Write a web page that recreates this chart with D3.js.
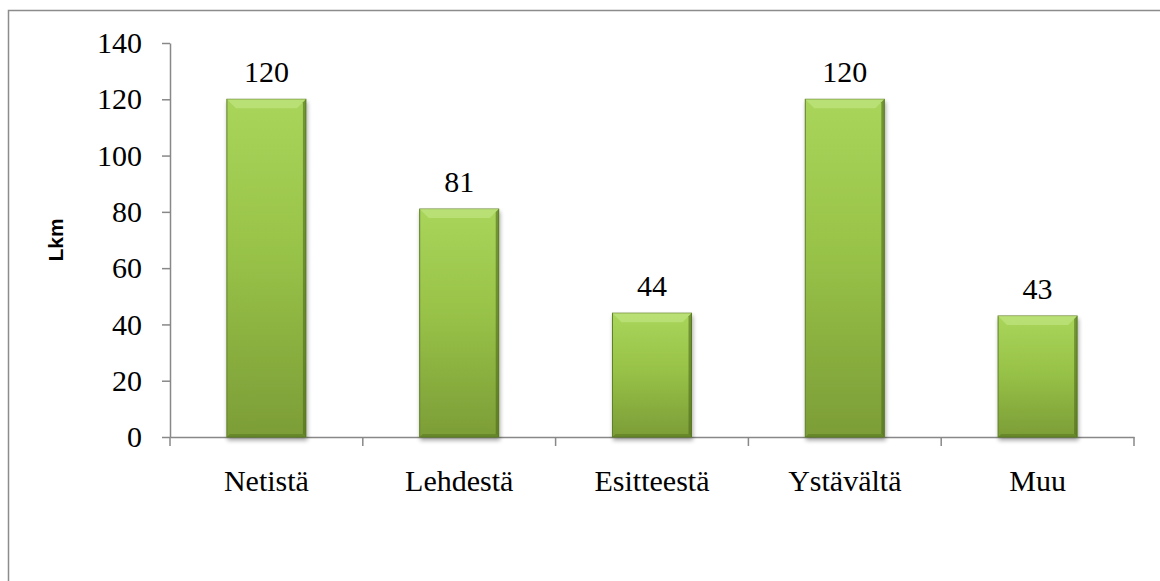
<!DOCTYPE html>
<meta charset="utf-8">
<style>
body { margin: 0; background: #fff; }
.axis path, .axis line { fill: none; stroke: #888; stroke-width: 1.5; }
.tick text { font-family: "Liberation Serif", "Times New Roman", serif; fill: #000; }
</style>
<body>
<script src="https://d3js.org/d3.v7.min.js"></script>
<script>

var categories = ['Netistä', 'Lehdestä', 'Esitteestä', 'Ystävältä', 'Muu'];
var values = [120, 81, 44, 120, 43];
var yTicks = [0, 20, 40, 60, 80, 100, 120, 140];

var width = 1160;
var height = 581;
var margin = {top: 43, left: 170, right: 26, bottom: 144};

var svg = d3.select('body').append('svg')
  .attr('width', width)
  .attr('height', height);

// outer chart frame (right and bottom edges are cut off)
svg.append('rect')
  .attr('x', 8.5).attr('y', 10.5)
  .attr('width', width + 20).attr('height', height + 20)
  .attr('fill', 'none')
  .attr('stroke', '#8c8c8c')
  .attr('stroke-width', 1.5);

var x = d3.scaleBand()
  .domain(categories)
  .range([margin.left, width - margin.right])
  .paddingInner(0.59)
  .paddingOuter(0.295);

var y = d3.scaleLinear()
  .domain([0, 140])
  .range([height - margin.bottom, margin.top]);

var defs = svg.append('defs');
var grad = defs.append('linearGradient')
  .attr('id', 'barGrad')
  .attr('x1', 0).attr('y1', 0).attr('x2', 0).attr('y2', 1);
grad.append('stop').attr('offset', '0%').attr('stop-color', '#a9d55b');
grad.append('stop').attr('offset', '45%').attr('stop-color', '#98c348');
grad.append('stop').attr('offset', '100%').attr('stop-color', '#7c9d37');

var shadow = defs.append('filter').attr('id', 'shadow')
  .attr('x', '-10%').attr('y', '-10%').attr('width', '130%').attr('height', '130%');
shadow.append('feGaussianBlur').attr('in', 'SourceAlpha').attr('stdDeviation', 2);
shadow.append('feOffset').attr('dx', 1).attr('dy', 3).attr('result', 'off');
shadow.append('feComponentTransfer').append('feFuncA').attr('type', 'linear').attr('slope', 0.35);
var merge = shadow.append('feMerge');
merge.append('feMergeNode');
merge.append('feMergeNode').attr('in', 'SourceGraphic');

// y axis
svg.append('g')
  .attr('class', 'axis')
  .attr('transform', 'translate(' + margin.left + ',0)')
  .call(d3.axisLeft(y).tickValues(yTicks).tickSize(8).tickPadding(20).tickSizeOuter(0))
  .call(g => g.selectAll('text').attr('font-size', 30));

// x axis
svg.append('g')
  .attr('class', 'axis')
  .attr('transform', 'translate(0,' + y(0) + ')')
  .call(d3.axisBottom(x).tickSize(0).tickSizeOuter(0).tickPadding(33))
  .call(g => g.selectAll('text').attr('font-size', 30));

// category separators on the x axis
svg.append('g')
  .selectAll('line')
  .data(d3.range(categories.length + 1))
  .join('line')
  .attr('x1', i => margin.left + i * x.step())
  .attr('x2', i => margin.left + i * x.step())
  .attr('y1', y(0))
  .attr('y2', y(0) + 9)
  .attr('stroke', '#888')
  .attr('stroke-width', 1.5);

var bars = svg.append('g')
  .selectAll('g')
  .data(categories.map((c, i) => ({cat: c, val: values[i]})))
  .join('g');

bars.append('rect')
  .attr('x', d => x(d.cat))
  .attr('y', d => y(d.val))
  .attr('width', x.bandwidth())
  .attr('height', d => y(0) - y(d.val))
  .attr('fill', 'url(#barGrad)')
  .attr('stroke', '#5f7f25')
  .attr('stroke-width', 1)
  .attr('filter', 'url(#shadow)');

// bevel: light top strip and darker right/bottom edges
var bev = 9;
bars.append('polygon')
  .attr('points', d => {
    var x0 = x(d.cat), x1 = x0 + x.bandwidth(), y0 = y(d.val);
    return [[x0, y0], [x1, y0], [x1 - bev, y0 + bev], [x0 + bev, y0 + bev]].join(' ');
  })
  .attr('fill', '#bde27a')
  .attr('opacity', 0.8);

bars.append('polygon')
  .attr('points', d => {
    var x0 = x(d.cat), x1 = x0 + x.bandwidth(), y0 = y(d.val), y1 = y(0);
    return [[x1, y0], [x1, y1], [x1 - 3, y1 - 3], [x1 - 3, y0 + 3]].join(' ');
  })
  .attr('fill', '#4e6b1c')
  .attr('opacity', 0.6);

bars.append('polygon')
  .attr('points', d => {
    var x0 = x(d.cat), x1 = x0 + x.bandwidth(), y1 = y(0);
    return [[x0, y1], [x1, y1], [x1 - 3, y1 - 3], [x0 + 3, y1 - 3]].join(' ');
  })
  .attr('fill', '#5a7a22')
  .attr('opacity', 0.6);

// value labels
bars.append('text')
  .attr('x', d => x(d.cat) + x.bandwidth() / 2)
  .attr('y', d => y(d.val) - 17)
  .attr('text-anchor', 'middle')
  .attr('font-family', '"Liberation Serif", "Times New Roman", serif')
  .attr('font-size', 30)
  .text(d => d.val);

// y axis title
svg.append('text')
  .attr('transform', 'translate(63,' + ((y(0) + y(140)) / 2) + ') rotate(-90)')
  .attr('text-anchor', 'middle')
  .attr('font-family', '"Liberation Sans", Arial, sans-serif')
  .attr('font-weight', 'bold')
  .attr('font-size', 21)
  .text('Lkm');

</script>
</body>
</html>
